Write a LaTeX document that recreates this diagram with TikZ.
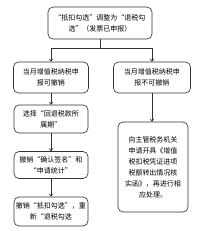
\documentclass[tikz,border=0pt]{standalone}
\usepackage{fontspec}
\setmainfont{Noto Sans CJK SC}
\usetikzlibrary{arrows.meta}
\begin{document}
\begin{tikzpicture}[x=1pt,y=1pt,
  box/.style={draw=black!80, line width=0.65pt, rounded corners=5pt, align=center,
    inner sep=0pt, font=\fontsize{7}{11}\selectfont, text=black},
  arr/.style={draw=black!80, line width=0.65pt, -{To[length=3pt,width=4pt]}},
  ln/.style={draw=black!80, line width=0.65pt}]
\useasboundingbox (0,0) rectangle (200,-231);
\node[box, minimum width=104pt, minimum height=32pt] (top) at (100,-23) {“抵扣勾选”调整为“退税勾\\选”（发票已申报）};
\node[box, minimum width=75pt, minimum height=31pt] (L1) at (51,-77.5) {当月增值税纳税申\\报可撤销};
\node[box, minimum width=74pt, minimum height=28pt] (L2) at (51,-119) {选择“回退税款所\\属期”};
\node[box, minimum width=74pt, minimum height=27pt] (L3) at (51,-165) {撤销“确认签名”和\\“申请统计”};
\node[box, minimum width=74pt, minimum height=29pt] (L4) at (51,-211.5) {撤销“抵扣勾选”，重\\新“退税勾选};
\node[box, minimum width=77pt, minimum height=31pt] (R1) at (152,-77.5) {当月增值税纳税申\\报不可撤销};
\node[box, minimum width=70pt, minimum height=90pt] (R2) at (153,-167) {向主管税务机关\\申请开具《增值\\税扣税凭证进项\\税额转出情况核\\实函》，再进行相\\应处理。};
\coordinate (j) at (100,-48);
\draw[ln] (top.south) -- (j);
\draw[arr] (j) -| (L1.north);
\draw[arr] (j) -| (R1.north);
\draw[arr] (L1) -- (L2);
\draw[arr] (L2) -- (L3);
\draw[arr] (L3) -- (L4);
\draw[arr] (R1.south) -- (R1.south |- R2.north);
\end{tikzpicture}
\end{document}
